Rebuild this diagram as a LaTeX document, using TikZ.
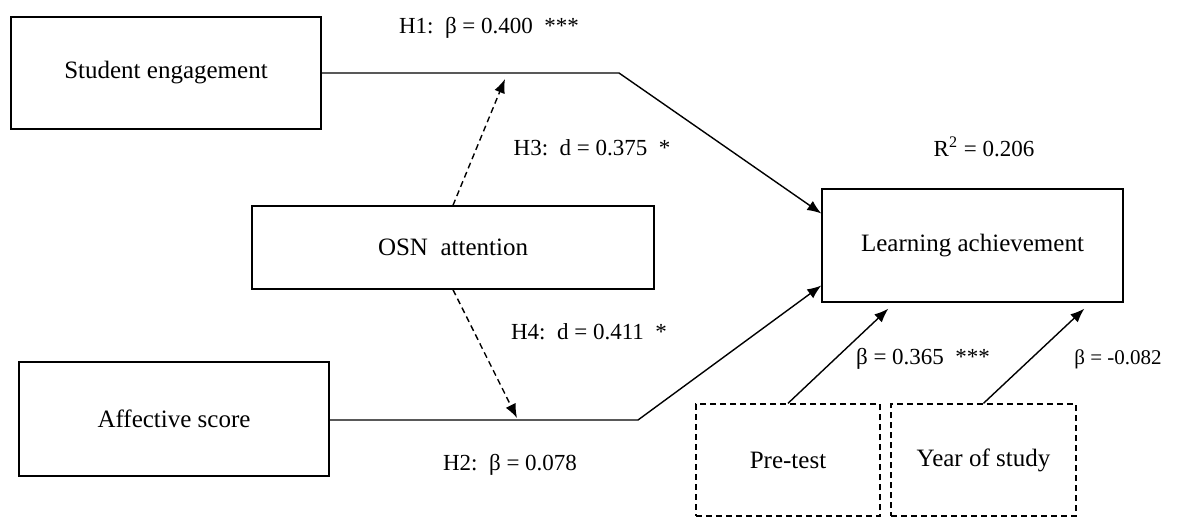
\documentclass[tikz,border=0pt]{standalone}
\usepackage{fontspec}
\setmainfont{Liberation Serif}
\usepackage{tikz}
\usetikzlibrary{arrows.meta,calc}

\tikzset{
  varbox/.style={draw, line width=0.7pt, font=\fontsize{12.5}{15}\selectfont, align=center},
  ctrlbox/.style={varbox, dash pattern=on 3pt off 2pt},
  effect/.style={line width=0.7pt, -{Latex[length=7pt,width=5.5pt]}},
  moderate/.style={effect, dash pattern=on 3pt off 2pt},
  lbl/.style={font=\fontsize{11.5}{13}\selectfont, inner sep=0pt}
}

\begin{document}
\begin{tikzpicture}[x=0.5pt,y=-0.5pt]
    \useasboundingbox (0,0) rectangle (1183,518);

    % Variables
    \node[varbox, minimum width=155pt, minimum height=56pt] (eng) at (166,73) {Student engagement};
    \node[varbox, minimum width=201pt, minimum height=41.5pt] (osn) at (453,247.5) {OSN\ \ attention};
    \node[varbox, minimum width=155pt, minimum height=57pt] (aff) at (174,419) {Affective score};
    \node[varbox, minimum width=150.5pt, minimum height=56.5pt] (ach) at (972.5,245.5) {Learning achievement};

    % Controls
    \node[ctrlbox, minimum width=92pt, minimum height=56pt] (pre) at (788,460) {Pre-test};
    \node[ctrlbox, minimum width=92.5pt, minimum height=56pt] (year) at (983.5,460) {Year of study};

    % Bends and moderation points
    \coordinate (engbend) at (619,73);
    \coordinate (affbend) at (638,420);
    \coordinate (modtop) at (505,79);
    \coordinate (modbot) at (517,418);

    % Paths
    \draw[effect] (eng.east) -- (engbend) -- ([yshift=16pt]ach.west);
    \draw[effect] (aff.east |- affbend) -- (affbend) -- ([yshift=-20pt]ach.west);
    \draw[moderate] (osn.north) -- (modtop);
    \draw[moderate] (osn.south) -- (modbot);
    \draw[effect] (pre.north) -- ([xshift=33.5pt,yshift=-3pt]ach.south west);
    \draw[effect] (year.north) -- ([xshift=131.5pt,yshift=-3pt]ach.south west);

    % Coefficients
    \node[lbl] (h1) at (489,28) {H1:\ \ β = 0.400\ \ ***};
    \node[lbl] (h3) at (592,148) {H3:\ \ d = 0.375\ \ *};
    \node[lbl] (h4) at (589,332) {H4:\ \ d = 0.411\ \ *};
    \node[lbl] (h2) at (510,465) {H2:\ \ β = 0.078};
    \node[lbl] (rsq) at (984,147) {R\textsuperscript{2} = 0.206};
    \node[lbl] (bpre) at (923,359) {β = 0.365\ \ ***};
    \node[lbl, font=\fontsize{10.5}{12}\selectfont] (byear) at (1118,359) {β = -0.082};
\end{tikzpicture}
\end{document}
